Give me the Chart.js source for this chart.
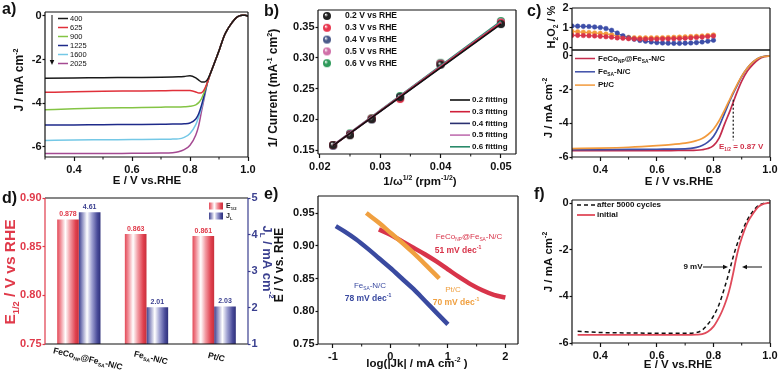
<!DOCTYPE html>
<html>
<head>
<meta charset="utf-8">
<script src="https://cdn.jsdelivr.net/npm/chart.js@4.4.1/dist/chart.umd.min.js"></script>
<style>
html, body { margin: 0; padding: 0; background: #fff; }
body { width: 779px; height: 372px; position: relative; overflow: hidden; }
canvas { position: absolute; }
</style>
</head>
<body>
<canvas id="ca" width="262" height="192" style="left:0px;top:0px"></canvas>
<canvas id="cb" width="258" height="192" style="left:262px;top:0px"></canvas>
<canvas id="cc1" width="264" height="56" style="left:515px;top:0px"></canvas>
<canvas id="cc2" width="264" height="150" style="left:515px;top:40px"></canvas>
<canvas id="cd" width="282" height="186" style="left:0px;top:186px"></canvas>
<canvas id="ce" width="258" height="186" style="left:262px;top:186px"></canvas>
<canvas id="cf" width="264" height="186" style="left:515px;top:186px"></canvas>
<script>
// ---- a) LSV at different rotation rates
const aRpm = ["400", "625", "900", "1225", "1600", "2025"];
const aE = [0.30, 0.40, 0.50, 0.60, 0.70, 0.74, 0.76, 0.78, 0.80, 0.82, 0.83, 0.84, 0.85, 0.86,
  0.87, 0.88, 0.89, 0.90, 0.91, 0.92, 0.93, 0.94, 0.95, 0.96, 0.97, 0.98, 0.99, 1.00];
const aJ400 = [-2.85, -2.84, -2.83, -2.82, -2.81, -2.80, -2.79, -2.77, -2.74, -2.84, -2.94, -3.02, -3.02, -2.92,
  -2.65, -2.30, -1.95, -1.60, -1.20, -0.85, -0.60, -0.40, -0.22, -0.08, 0.00, 0.03, 0.03, 0.00];
const aJ625 = [-3.50, -3.47, -3.45, -3.44, -3.43, -3.42, -3.42, -3.41, -3.42, -3.48, -3.53, -3.52, -3.35, -3.05,
  -2.65, -2.30, -1.95, -1.60, -1.20, -0.85, -0.60, -0.40, -0.22, -0.08, 0.00, 0.03, 0.03, 0.00];
const aJ900 = [-4.30, -4.25, -4.22, -4.20, -4.18, -4.17, -4.17, -4.16, -4.14, -4.07, -3.97, -3.78, -3.45, -3.05,
  -2.65, -2.30, -1.95, -1.60, -1.20, -0.85, -0.60, -0.40, -0.22, -0.08, 0.00, 0.03, 0.03, 0.00];
const aJ1225 = [-5.00, -4.99, -4.98, -4.97, -4.96, -4.95, -4.95, -4.94, -4.90, -4.72, -4.48, -4.08, -3.58, -3.05,
  -2.65, -2.30, -1.95, -1.60, -1.20, -0.85, -0.60, -0.40, -0.22, -0.08, 0.00, 0.03, 0.03, 0.00];
const aJ1600 = [-5.70, -5.68, -5.67, -5.66, -5.65, -5.64, -5.63, -5.56, -5.38, -4.98, -4.62, -4.18, -3.62, -3.05,
  -2.65, -2.30, -1.95, -1.60, -1.20, -0.85, -0.60, -0.40, -0.22, -0.08, 0.00, 0.03, 0.03, 0.00];
const aJ2025 = [-6.30, -6.30, -6.30, -6.29, -6.28, -6.26, -6.22, -6.12, -5.92, -5.45, -5.02, -4.35, -3.70, -3.08,
  -2.65, -2.30, -1.95, -1.60, -1.20, -0.85, -0.60, -0.40, -0.22, -0.08, 0.00, 0.03, 0.03, 0.00];
const aXTicks = [0.4, 0.6, 0.8, 1.0];
const aYTicks = [-6, -4, -2, 0];

// ---- b) K-L plots
const bX = [0.0222, 0.0250, 0.0286, 0.0333, 0.0400, 0.0500];
const bLabels = ["0.2 V vs RHE", "0.3 V vs RHE", "0.4 V vs RHE", "0.5 V vs RHE", "0.6 V vs RHE"];
const b02 = [0.158, 0.174, 0.200, 0.236, 0.289, 0.355];
const b03 = [0.158, 0.175, 0.201, 0.233, 0.290, 0.357];
const b04 = [0.157, 0.176, 0.200, 0.236, 0.290, 0.356];
const b05 = [0.158, 0.176, 0.201, 0.235, 0.291, 0.358];
const b06 = [0.158, 0.177, 0.202, 0.238, 0.292, 0.360];
const bFitLabels = ["0.2 fitting", "0.3 fitting", "0.4 fitting", "0.5 fitting", "0.6 fitting"];
const bFitX = [0.0222, 0.0500];
const bFit02 = [0.157, 0.355];
const bFit03 = [0.157, 0.357];
const bFit04 = [0.157, 0.356];
const bFit05 = [0.158, 0.358];
const bFit06 = [0.158, 0.360];
const bXTicks = [0.02, 0.03, 0.04, 0.05];
const bYTicks = [0.15, 0.20, 0.25, 0.30, 0.35];

// ---- c) H2O2 yield + LSV of three catalysts
const cNames = ["FeCo_{NP}@Fe_{SA}-N/C", "Fe_{SA}-N/C", "Pt/C"];
const hE = [0.30, 0.32, 0.34, 0.36, 0.38, 0.40, 0.42, 0.44, 0.46, 0.48, 0.50, 0.52, 0.54,
  0.56, 0.58, 0.60, 0.62, 0.64, 0.66, 0.68, 0.70, 0.72, 0.74, 0.76, 0.78, 0.80];
const hFeCo = [0.60, 0.60, 0.59, 0.58, 0.57, 0.55, 0.53, 0.50, 0.47, 0.45, 0.43, 0.42, 0.41,
  0.41, 0.41, 0.41, 0.42, 0.42, 0.43, 0.44, 0.45, 0.47, 0.49, 0.51, 0.54, 0.57];
const hFeSA = [1.08, 1.07, 1.06, 1.05, 1.03, 1.00, 0.95, 0.86, 0.72, 0.58, 0.47, 0.40, 0.34,
  0.30, 0.26, 0.23, 0.21, 0.20, 0.19, 0.19, 0.20, 0.21, 0.23, 0.26, 0.30, 0.35];
const hPt = [0.80, 0.78, 0.76, 0.74, 0.72, 0.70, 0.67, 0.63, 0.58, 0.53, 0.50, 0.48, 0.47,
  0.47, 0.47, 0.48, 0.48, 0.49, 0.50, 0.51, 0.52, 0.54, 0.55, 0.57, 0.59, 0.62];
const cE = [0.30, 0.40, 0.50, 0.60, 0.65, 0.70, 0.72, 0.74, 0.76, 0.78, 0.80, 0.82, 0.84,
  0.86, 0.87, 0.88, 0.90, 0.92, 0.94, 0.96, 0.98, 1.00];
const cFeCo = [-5.62, -5.62, -5.62, -5.62, -5.62, -5.61, -5.61, -5.60, -5.57, -5.50, -5.32, -4.88, -4.02,
  -3.20, -2.75, -2.30, -1.50, -0.90, -0.50, -0.20, -0.05, 0.00];
const cFeSA = [-5.57, -5.56, -5.55, -5.54, -5.53, -5.52, -5.49, -5.43, -5.32, -5.12, -4.78, -4.18, -3.38,
  -2.58, -2.22, -1.88, -1.22, -0.72, -0.36, -0.12, -0.02, 0.00];
const cPt = [-5.50, -5.47, -5.42, -5.33, -5.27, -5.18, -5.12, -5.03, -4.90, -4.68, -4.35, -3.85, -3.20,
  -2.50, -2.15, -1.82, -1.20, -0.72, -0.36, -0.12, -0.03, 0.00];
const cHalfE = 0.87;
const cHXTicks = [];
const cHYTicks = [0, 1, 2];
const cXTicks = [0.4, 0.6, 0.8, 1.0];
const cYTicks = [-6, -4, -2, 0];

// ---- d) E1/2 and JL bars
const dCats = ["FeCo_{NP}@Fe_{SA}-N/C", "Fe_{SA}-N/C", "Pt/C"];
const dE12 = [0.878, 0.863, 0.861];
const dJL = [4.61, 2.01, 2.03];
const dLeftTicks = [0.75, 0.80, 0.85, 0.90];
const dRightTicks = [1, 2, 3, 4, 5];

// ---- e) Tafel plots
const eFeSAx = [-0.95, -0.80, -0.60, -0.40, -0.20, 0.00, 0.20, 0.40, 0.60, 0.80, 1.00];
const eFeSAy = [0.930, 0.922, 0.910, 0.896, 0.881, 0.866, 0.850, 0.834, 0.816, 0.798, 0.780];
const ePtx = [-0.42, -0.20, 0.00, 0.20, 0.40, 0.60, 0.85];
const ePty = [0.950, 0.935, 0.920, 0.905, 0.889, 0.872, 0.850];
const eFeCox = [-0.20, 0.00, 0.20, 0.40, 0.60, 0.80, 1.00, 1.20, 1.40, 1.60, 1.80, 2.00];
const eFeCoy = [0.925, 0.917, 0.907, 0.897, 0.887, 0.876, 0.864, 0.852, 0.841, 0.832, 0.825, 0.821];
const eXTicks = [-1, 0, 1, 2];
const eYTicks = [0.75, 0.80, 0.85, 0.90, 0.95];

// ---- f) stability
const fE = [0.32, 0.40, 0.50, 0.60, 0.70, 0.74, 0.76, 0.78, 0.80, 0.82, 0.83, 0.84, 0.85, 0.86,
  0.87, 0.88, 0.89, 0.90, 0.92, 0.94, 0.96, 0.98, 1.00];
const fInitial = [-5.65, -5.65, -5.65, -5.65, -5.65, -5.64, -5.62, -5.52, -5.30, -4.90, -4.65, -4.35, -4.00, -3.55,
  -3.00, -2.40, -1.90, -1.50, -0.85, -0.45, -0.15, -0.03, 0.02];
const fAfter = [-5.50, -5.55, -5.57, -5.58, -5.58, -5.55, -5.45, -5.20, -4.85, -4.35, -4.00, -3.60, -3.20, -2.75,
  -2.30, -1.90, -1.55, -1.25, -0.72, -0.35, -0.10, -0.01, 0.02];
const fXTicks = [0.4, 0.6, 0.8, 1.0];
const fYTicks = [-6, -4, -2, 0];

const FONT = "'Liberation Sans', Arial, sans-serif";
const TICK_FONT = { family: FONT, size: 11, weight: "bold" };
Chart.defaults.font.family = FONT;

// text with _{sub} and ^{sup}
function parseRich(str) {
  const parts = [];
  let buf = "";
  let i = 0;
  while (i < str.length) {
    const c = str[i];
    if ((c === "_" || c === "^") && str[i + 1] === "{") {
      if (buf) { parts.push({ t: buf, k: 0 }); buf = ""; }
      const end = str.indexOf("}", i);
      parts.push({ t: str.slice(i + 2, end), k: c === "_" ? 1 : -1 });
      i = end + 1;
    } else {
      buf += c;
      i++;
    }
  }
  if (buf) parts.push({ t: buf, k: 0 });
  return parts;
}

function drawRich(ctx, str, x, y, o) {
  o = o || {};
  const size = o.size || 11;
  const weight = o.weight || "bold";
  const parts = parseRich(str);
  ctx.save();
  ctx.translate(x, y);
  if (o.rotate) ctx.rotate(o.rotate);
  ctx.fillStyle = o.color || "#111";
  ctx.textBaseline = "middle";
  ctx.textAlign = "left";
  let w = 0;
  parts.forEach(p => {
    ctx.font = weight + " " + (p.k ? size * 0.6 : size) + "px " + FONT;
    p.w = ctx.measureText(p.t).width;
    w += p.w;
  });
  let cx = o.align === "left" ? 0 : o.align === "right" ? -w : -w / 2;
  if (o.shift) cx += o.shift * w;
  parts.forEach(p => {
    ctx.font = weight + " " + (p.k ? size * 0.6 : size) + "px " + FONT;
    ctx.fillText(p.t, cx, p.k * size * 0.35);
    cx += p.w;
  });
  ctx.restore();
}

function frame(ctx, a, cols) {
  cols = cols || {};
  ctx.save();
  ctx.lineWidth = 1.2;
  const side = (col, x1, y1, x2, y2) => {
    ctx.strokeStyle = col;
    ctx.beginPath();
    ctx.moveTo(x1, y1);
    ctx.lineTo(x2, y2);
    ctx.stroke();
  };
  side(cols.top || "#111", a.left, a.top, a.right, a.top);
  side(cols.bottom || "#111", a.left, a.bottom, a.right, a.bottom);
  side(cols.left || "#111", a.left, a.top, a.left, a.bottom);
  side(cols.right || "#111", a.right, a.top, a.right, a.bottom);
  ctx.restore();
}

function minorTicks(ctx, scale, len) {
  const vals = scale.ticks.map(t => t.value);
  if (vals.length < 2) return;
  const step = vals[1] - vals[0];
  ctx.save();
  ctx.strokeStyle = "#111";
  ctx.lineWidth = 1;
  for (let v = vals[0] - step / 2; v <= scale.max + 1e-9; v += step) {
    if (v < scale.min - 1e-9) continue;
    const p = scale.getPixelForValue(v);
    ctx.beginPath();
    if (scale.isHorizontal()) { ctx.moveTo(p, scale.top); ctx.lineTo(p, scale.top + len); }
    else { ctx.moveTo(scale.right, p); ctx.lineTo(scale.right - len, p); }
    ctx.stroke();
  }
  ctx.restore();
}

function arrow(ctx, x1, y1, x2, y2, color) {
  const ang = Math.atan2(y2 - y1, x2 - x1);
  const h = 5;
  const c = Math.cos(ang), s = Math.sin(ang);
  ctx.save();
  ctx.strokeStyle = color;
  ctx.fillStyle = color;
  ctx.lineWidth = 1;
  ctx.beginPath();
  ctx.moveTo(x1, y1);
  ctx.lineTo(x2 - c * h * 0.8, y2 - s * h * 0.8);
  ctx.stroke();
  ctx.beginPath();
  ctx.moveTo(x2, y2);
  ctx.lineTo(x2 - h * c + h * 0.45 * s, y2 - h * s - h * 0.45 * c);
  ctx.lineTo(x2 - h * c - h * 0.45 * s, y2 - h * s + h * 0.45 * c);
  ctx.closePath();
  ctx.fill();
  ctx.restore();
}

function legLine(ctx, x1, x2, y, color, width, dash) {
  ctx.save();
  ctx.strokeStyle = color;
  ctx.lineWidth = width;
  if (dash) ctx.setLineDash(dash);
  ctx.beginPath();
  ctx.moveTo(x1, y);
  ctx.lineTo(x2, y);
  ctx.stroke();
  ctx.restore();
}

function sphere(col, r) {
  const c = document.createElement("canvas");
  c.width = c.height = 2 * r + 2;
  const g = c.getContext("2d");
  const m = r + 1;
  const grad = g.createRadialGradient(m - r * 0.35, m - r * 0.4, r * 0.05, m, m, r);
  grad.addColorStop(0, "#ffffff");
  grad.addColorStop(0.45, col);
  grad.addColorStop(1, col);
  g.fillStyle = grad;
  g.beginPath();
  g.arc(m, m, r, 0, Math.PI * 2);
  g.fill();
  return c;
}

// x axes: outward ticks; y axes (vert = true): short ticks, labels close to the frame
function axis(min, max, ticks, fmt, size, color, extra, vert) {
  color = color || "#111";
  return Object.assign({
    type: "linear",
    min: min,
    max: max,
    afterBuildTicks: s => { s.ticks = ticks.map(v => ({ value: v })); },
    afterFit: s => {
      if (s.isHorizontal()) s.height = size; else s.width = size;
      s.paddingLeft = s.paddingRight = s.paddingTop = s.paddingBottom = 0;
    },
    grid: { drawOnChartArea: false, tickLength: vert ? 2.5 : 4, tickColor: color, tickWidth: 1.2 },
    border: { display: false },
    ticks: { color: color, font: TICK_FONT, padding: vert ? 1 : 2, maxRotation: 0, autoSkip: false, callback: v => fmt(v) }
  }, extra || {});
}
function yAxis(min, max, ticks, fmt, size, color, extra) {
  return axis(min, max, ticks, fmt, size, color, extra, true);
}

function baseOptions(pad, scales) {
  return {
    responsive: false,
    animation: false,
    devicePixelRatio: 1,
    layout: { padding: pad },
    plugins: { legend: { display: false }, tooltip: { enabled: false } },
    scales: scales,
    elements: { point: { radius: 0 } }
  };
}

function line(xs, ys, color, width, extra) {
  return Object.assign({
    data: xs.map((x, i) => ({ x: x, y: ys[i] })),
    borderColor: color,
    backgroundColor: color,
    borderWidth: width,
    pointRadius: 0,
    fill: false,
    cubicInterpolationMode: "monotone"
  }, extra || {});
}

function deco(ox, oy, opt, fn) {
  return {
    id: "deco",
    afterDraw(chart) {
      const ctx = chart.ctx;
      (opt.minor || []).forEach(id => minorTicks(ctx, chart.scales[id], 2.5));
      if (opt.frame !== false) frame(ctx, chart.chartArea, opt.frameColors);
      ctx.save();
      ctx.translate(-ox, -oy);
      fn(ctx, chart);
      ctx.restore();
    }
  };
}

const fmt1 = v => v.toFixed(1);
const fmt2 = v => v.toFixed(2);
const fmtInt = v => String(v);
const RAD90 = Math.PI / 2;

// ================= a =================
const aColors = ["#1a1a1a", "#e0303a", "#84c444", "#1e2a8a", "#74c8e6", "#a44a92"];
const aSeries = [aJ400, aJ625, aJ900, aJ1225, aJ1600, aJ2025];
new Chart(document.getElementById("ca"), {
  type: "line",
  data: { datasets: aSeries.map((s, i) => line(aE, s, aColors[i], 1.5)) },
  options: baseOptions({ left: 0, top: 12, right: 14, bottom: 0 }, {
    x: axis(0.3, 1.0, aXTicks, fmt1, 35),
    y: yAxis(-6.46, 0.18, aYTicks, fmtInt, 45)
  }),
  plugins: [deco(0, 0, { minor: ["x"] }, ctx => {
    drawRich(ctx, "a)", 2, 10, { size: 16, align: "left" });
    drawRich(ctx, "J / mA cm^{-2}", 20, 80, { size: 12, rotate: -RAD90 });
    drawRich(ctx, "E / V vs.RHE", 147, 181, { size: 11.5 });
    aRpm.forEach((r, i) => {
      const y = 18.5 + i * 9;
      legLine(ctx, 58, 68, y, aColors[i], 1.5);
      drawRich(ctx, r, 70, y, { size: 7.5, weight: "normal", align: "left" });
    });
    arrow(ctx, 52, 15, 52, 65, "#111");
  })]
});

// ================= b =================
const bPtColors = ["#222222", "#e8364e", "#4a5a8a", "#d070a8", "#2e9a5a"];
const bFitColors = ["#111111", "#d0203a", "#2a3070", "#c070b0", "#2a8a6a"];
const bSeries = [b02, b03, b04, b05, b06];
const bFits = [bFit02, bFit03, bFit04, bFit05, bFit06];
const bSpheres = bPtColors.map(c => sphere(c, 4));
new Chart(document.getElementById("cb"), {
  type: "line",
  data: {
    datasets: bFits.map((f, i) => line(bFitX, f, bFitColors[i], 1.6, { cubicInterpolationMode: "default" }))
      .concat(bSeries.map((s, i) => line(bX, s, bPtColors[i], 0, {
        showLine: false, pointStyle: bSpheres[i], pointRadius: 4
      })))
  },
  options: baseOptions({ left: 0, top: 10, right: 2, bottom: 0 }, {
    x: axis(0.0197, 0.0525, bXTicks, fmt2, 38),
    y: yAxis(0.1435, 0.378, bYTicks, fmt2, 56)
  }),
  plugins: [deco(262, 0, { minor: ["x"] }, ctx => {
    drawRich(ctx, "b)", 264, 12, { size: 16, align: "left" });
    drawRich(ctx, "1/ Current (mA^{-1} cm^{2})", 274, 88, { size: 12, rotate: -RAD90 });
    drawRich(ctx, "1/\u03c9^{1/2} (rpm^{-1/2})", 420, 182, { size: 11.5 });
    bLabels.forEach((t, i) => {
      const y = 16 + i * 11.8;
      ctx.drawImage(bSpheres[i], 327 - 5, y - 5);
      drawRich(ctx, t, 345, y, { size: 8.5, align: "left" });
    });
    bFitLabels.forEach((t, i) => {
      const y = 100 + i * 11.7;
      legLine(ctx, 450, 470, y, bFitColors[i], 1.6);
      drawRich(ctx, t, 472, y, { size: 8, align: "left" });
    });
  })]
});

// ================= c (top: H2O2) =================
const cColors = ["#c42c4c", "#3d4ea8", "#f29a3c"];
const cMarker = ["#d8344a", "#3d4ea8", "#f29a3c"];
new Chart(document.getElementById("cc1"), {
  type: "line",
  data: {
    datasets: [hFeCo, hFeSA, hPt].map((s, i) => line(hE, s, cMarker[i], 1, {
      pointRadius: 2.3, pointBackgroundColor: cMarker[i], pointBorderColor: cMarker[i], pointBorderWidth: 0.5
    }))
  },
  options: baseOptions({ left: 0, top: 8, right: 9, bottom: 0 }, {
    x: axis(0.3, 1.0, cHXTicks, fmt1, 6, null, { grid: { display: false }, ticks: { display: false } }),
    y: yAxis(-0.15, 2.0, cHYTicks, fmtInt, 57)
  }),
  plugins: [deco(515, 0, {}, ctx => {
    drawRich(ctx, "c)", 527, 12, { size: 16, align: "left" });
    drawRich(ctx, "H_{2}O_{2} / %", 552, 27, { size: 11, rotate: -RAD90 });
  })]
});

// ================= c (bottom: LSV) =================
new Chart(document.getElementById("cc2"), {
  type: "line",
  data: { datasets: [cPt, cFeSA, cFeCo].map((s, i) => line(cE, s, cColors[2 - i], 1.7)) },
  options: baseOptions({ left: 0, top: 10, right: 9, bottom: 0 }, {
    x: axis(0.3, 1.0, cXTicks, fmt1, 33),
    y: yAxis(-6, 0.35, cYTicks, fmtInt, 57)
  }),
  plugins: [deco(515, 40, { minor: ["x"] }, (ctx, chart) => {
    drawRich(ctx, "J / mA cm^{-2}", 549, 108, { size: 11.5, rotate: -RAD90 });
    drawRich(ctx, "E / V vs.RHE", 679, 182, { size: 11.5 });
    cNames.forEach((n, i) => {
      const y = 58.5 + i * 13.3;
      legLine(ctx, 575, 595, y, cColors[i], 1.5);
      drawRich(ctx, n, 598, y, { size: 8, align: "left" });
    });
    const xs = chart.scales.x, ys = chart.scales.y;
    const px = xs.getPixelForValue(cHalfE) + 515;
    ctx.save();
    ctx.strokeStyle = "#111";
    ctx.lineWidth = 1.2;
    ctx.setLineDash([2, 2]);
    ctx.beginPath();
    ctx.moveTo(px, ys.getPixelForValue(-2.6) + 40);
    ctx.lineTo(px, ys.getPixelForValue(-5.0) + 40);
    ctx.stroke();
    ctx.restore();
    drawRich(ctx, "E_{1/2} = " + cHalfE.toFixed(2) + " V", 719, 147, { size: 8, align: "left", color: "#d03048" });
  })]
});

// ================= d =================
const redStops = [[0, "#e34a58"], [0.15, "#f08a94"], [0.38, "#ffffff"], [0.6, "#f29aa2"], [0.85, "#e0404e"], [1, "#c8303c"]];
const blueStops = [[0, "#3c3f8c"], [0.15, "#8a8cc0"], [0.38, "#ffffff"], [0.6, "#a0a2d2"], [0.85, "#4a4c9a"], [1, "#2e307a"]];
const dCatPct = 0.64;
function barGrad(stops) {
  return ctx => {
    const chart = ctx.chart;
    const xs = chart.scales.x;
    if (ctx.type !== "data" || !xs || !chart.chartArea) return stops[4][1];
    const grp = xs.width / dCats.length * dCatPct;
    const x0 = xs.getPixelForValue(ctx.dataIndex) - grp / 2 + ctx.datasetIndex * grp / 2;
    if (!Number.isFinite(x0) || !Number.isFinite(grp) || grp <= 0) return stops[4][1];
    const g = chart.ctx.createLinearGradient(x0, 0, x0 + grp / 2, 0);
    stops.forEach(s => g.addColorStop(s[0], s[1]));
    return g;
  };
}
const dRed = "#e03a4a";
const dBlue = "#3a3f8f";
new Chart(document.getElementById("cd"), {
  type: "bar",
  data: {
    labels: dCats,
    datasets: [
      { data: dE12, yAxisID: "y", backgroundColor: barGrad(redStops), borderWidth: 0, categoryPercentage: dCatPct, barPercentage: 1 },
      { data: dJL, yAxisID: "y2", backgroundColor: barGrad(blueStops), borderWidth: 0, categoryPercentage: dCatPct, barPercentage: 1 }
    ]
  },
  options: baseOptions({ left: 0, top: 12, right: 0, bottom: 0 }, {
    x: {
      type: "category", offset: true,
      grid: { display: false }, border: { display: false }, ticks: { display: false },
      afterFit: s => { s.height = 28; s.paddingLeft = s.paddingRight = 0; }
    },
    y: yAxis(0.75, 0.90, dLeftTicks, fmt2, 45, dRed),
    y2: yAxis(1, 5, dRightTicks, fmtInt, 34, dBlue, { position: "right" })
  }),
  plugins: [deco(0, 186, { frameColors: { left: dRed, right: dBlue } }, (ctx, chart) => {
    drawRich(ctx, "d)", 2, 199, { size: 16, align: "left" });
    drawRich(ctx, "E_{1/2} / V vs RHE", 11, 272, { size: 15.5, rotate: -RAD90, color: dRed });
    drawRich(ctx, "J_{L} / mA cm^{-2}", 267, 262, { size: 13, rotate: RAD90, color: dBlue });
    const xs = chart.scales.x;
    dCats.forEach((c, i) => {
      drawRich(ctx, c, xs.getPixelForValue(i), 357, { size: 8.5, rotate: 0.24, shift: 0.13 });
    });
    const m0 = chart.getDatasetMeta(0).data;
    const m1 = chart.getDatasetMeta(1).data;
    m0.forEach((el, i) => drawRich(ctx, dE12[i].toFixed(3), el.x, el.y + 186 - 5, { size: 7, color: dRed }));
    m1.forEach((el, i) => drawRich(ctx, dJL[i].toFixed(2), el.x, el.y + 186 - 5, { size: 7, color: dBlue }));
    [[redStops, 206, "E_{1/2}"], [blueStops, 216, "J_{L}"]].forEach(r => {
      const g = ctx.createLinearGradient(209, 0, 223, 0);
      r[0].forEach(s => g.addColorStop(s[0], s[1]));
      ctx.fillStyle = g;
      ctx.fillRect(209, r[1] - 3.5, 14, 7);
      drawRich(ctx, r[2], 226, r[1], { size: 7, align: "left", color: "#222" });
    });
  })]
});

// ================= e =================
const eBlue = "#3a4aa0";
const eOrange = "#f0a040";
const eRed = "#d8344a";
new Chart(document.getElementById("ce"), {
  type: "line",
  data: {
    datasets: [
      line(eFeSAx, eFeSAy, eBlue, 4.5),
      line(ePtx, ePty, eOrange, 4.5),
      line(eFeCox, eFeCoy, eRed, 4.5)
    ]
  },
  options: baseOptions({ left: 0, top: 10, right: 2, bottom: 0 }, {
    x: axis(-1.26, 2.22, eXTicks, fmtInt, 28),
    y: yAxis(0.75, 0.976, eYTicks, fmt2, 56)
  }),
  plugins: [deco(262, 186, { minor: ["x"] }, ctx => {
    drawRich(ctx, "e)", 264, 195, { size: 16, align: "left" });
    drawRich(ctx, "E / V vs. RHE", 280, 265, { size: 12, rotate: -RAD90 });
    drawRich(ctx, "log(|Jk| / mA cm^{-2} )", 417, 364, { size: 11.5 });
    drawRich(ctx, "FeCo_{NP}@Fe_{SA}-N/C", 469, 237, { size: 8, color: eRed, weight: "normal" });
    drawRich(ctx, "51 mV dec^{-1}", 458, 251, { size: 8.5, color: eRed });
    drawRich(ctx, "Fe_{SA}-N/C", 370, 286, { size: 8, color: eBlue, weight: "normal" });
    drawRich(ctx, "78 mV dec^{-1}", 368, 299, { size: 8.5, color: eBlue });
    drawRich(ctx, "Pt/C", 453, 290, { size: 8, color: eOrange, weight: "normal" });
    drawRich(ctx, "70 mV dec^{-1}", 456, 303, { size: 8.5, color: eOrange });
  })]
});

// ================= f =================
const fRed = "#e04a5a";
new Chart(document.getElementById("cf"), {
  type: "line",
  data: {
    datasets: [
      line(fE, fInitial, fRed, 1.8),
      line(fE, fAfter, "#111111", 1.5, { borderDash: [4, 3] })
    ]
  },
  options: baseOptions({ left: 0, top: 14, right: 9, bottom: 0 }, {
    x: axis(0.3, 1.0, fXTicks, fmt1, 29),
    y: yAxis(-6, 0.13, fYTicks, fmtInt, 57)
  }),
  plugins: [deco(515, 186, { minor: ["x"] }, ctx => {
    drawRich(ctx, "f)", 534, 195, { size: 16, align: "left" });
    drawRich(ctx, "J / mA cm^{-2}", 549, 262, { size: 11.5, rotate: -RAD90 });
    drawRich(ctx, "E / V vs.RHE", 678, 365, { size: 11.5 });
    legLine(ctx, 577, 595, 205, "#111", 1.5, [4, 3]);
    drawRich(ctx, "after 5000 cycles", 597, 205, { size: 8, align: "left" });
    legLine(ctx, 577, 595, 215, fRed, 1.8);
    drawRich(ctx, "initial", 597, 215, { size: 8, align: "left" });
    drawRich(ctx, "9 mV", 693, 267, { size: 8 });
    arrow(ctx, 703, 267, 728, 267, "#111");
    arrow(ctx, 762, 267, 742, 267, "#111");
  })]
});
</script>
</body>
</html>
